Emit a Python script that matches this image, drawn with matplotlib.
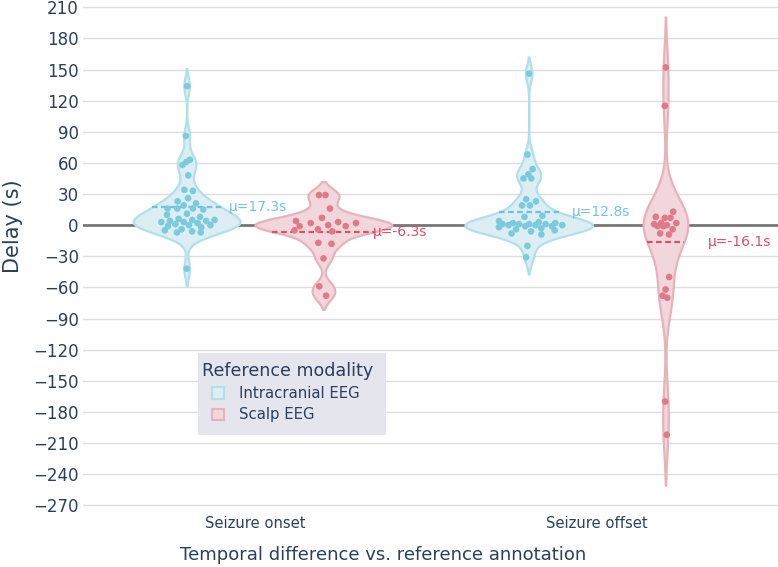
import numpy as np
import matplotlib
matplotlib.use("Agg")
import matplotlib.pyplot as plt
from matplotlib.patches import Patch, Rectangle
from matplotlib.legend_handler import HandlerPatch

# ---------------- data ----------------
categories = ["Seizure onset", "Seizure offset"]
modalities = ["Intracranial EEG", "Scalp EEG"]

intracranial_onset = [134, 86, 63, 61, 58, 48, 34, 33, 26, 23, 21, 19, 16, 16, 16, 15,
                      11, 10, 8, 6, 5, 5, 4, 4, 3, 3, 2, 1, 0, 0, -1, -2, -4, -5, -6,
                      -7, -7, -42]
scalp_onset = [29, 29, 16, 7, 4, 3, 2, 2, 0, -1, -1, -4, -5, -6, -17, -18, -32,
               -59, -68]
intracranial_offset = [146, 68, 54, 49, 45, 45, 25, 23, 19, 19, 9, 8, 4, 3, 2, 2, 1, 1,
                       1, 1, 0, 0, 0, -1, -1, -2, -3, -4, -5, -6, -8, -9, -20, -31]
scalp_offset = [152, 115, 13, 7, 8, 7, 2, 2, 0, -1, -4, -1, 1, -9, -8, -50, -62, -68,
                -70, -170, -202]

y_ticks = list(range(-270, 211, 30))

series = {
    ("Seizure onset", "Intracranial EEG"): intracranial_onset,
    ("Seizure onset", "Scalp EEG"): scalp_onset,
    ("Seizure offset", "Intracranial EEG"): intracranial_offset,
    ("Seizure offset", "Scalp EEG"): scalp_offset,
}

# ---------------- style ----------------
TXT = "#2a3f5f"
point_color = {"Intracranial EEG": "#7ccbdc", "Scalp EEG": "#e07a8b"}
fill_color = {"Intracranial EEG": "#dcedf3", "Scalp EEG": "#f1d6dc"}
edge_color = {"Intracranial EEG": "#b2e0ea", "Scalp EEG": "#e8b2bd"}
mean_color = {"Intracranial EEG": "#6cc3d6", "Scalp EEG": "#d95068"}
label_color = {"Intracranial EEG": "#72c6d9", "Scalp EEG": "#d95068"}
group_offset = {"Intracranial EEG": -0.2, "Scalp EEG": 0.2}
label_shift = {("Seizure onset", "Intracranial EEG"): 0.123,
               ("Seizure onset", "Scalp EEG"): 0.145,
               ("Seizure offset", "Intracranial EEG"): 0.125,
               ("Seizure offset", "Scalp EEG"): 0.125}
MAX_HALF = 0.2

plt.rcParams['font.family'] = ['DejaVu Sans']

W, H = 778, 567
AX_L, AX_B = 83, 511.5
fig = plt.figure(figsize=(W / 100, H / 100), dpi=100)
ax = fig.add_axes([AX_L / W, 1 - AX_B / H, 1 - AX_L / W, AX_B / H])


def px2ax(x, y):
    return (x - AX_L) / (W - AX_L), (AX_B - y) / AX_B


def silverman(v):
    v = np.asarray(v, float)
    n = len(v)
    sd = v.std(ddof=1)
    q1, q3 = np.percentile(v, [25, 75])
    a = min(sd, (q3 - q1) / 1.349)
    if a <= 0:
        a = sd
    return 1.059 * a * n ** -0.2


def kde(v, grid, bw):
    v = np.asarray(v, float)
    z = (grid[:, None] - v[None, :]) / bw
    return np.exp(-0.5 * z ** 2).sum(axis=1) / (len(v) * bw * np.sqrt(2 * np.pi))


dens = {}
for key, vals in series.items():
    bw = silverman(vals)
    grid = np.linspace(min(vals) - 2 * bw, max(vals) + 2 * bw, 400)
    dens[key] = (grid, kde(vals, grid, bw), bw)
gmax = max(d[1].max() for d in dens.values())

for ci, cat in enumerate(categories):
    for mod in modalities:
        key = (cat, mod)
        vals = np.asarray(series[key], float)
        grid, d, bw = dens[key]
        xc = ci + group_offset[mod]
        hw = d / gmax * MAX_HALF
        ax.fill_betweenx(grid, xc - hw, xc + hw, facecolor=fill_color[mod],
                         edgecolor=edge_color[mod], lw=1.6, zorder=3)
        m = vals.mean()
        hm = np.interp(m, grid, hw)
        ax.plot([xc - hm, xc + hm], [m, m], ls=(0, (2.5, 1.6)), color=mean_color[mod],
                lw=1.6, zorder=4)
        ax.text(xc + label_shift[key], m, f"\u03bc={m:.1f}s", ha="left", va="center",
                color=label_color[mod], fontsize=10, zorder=6)
        hv = np.interp(vals, grid, hw)
        u = ((np.arange(len(vals)) + 1) * 0.6180339887) % 1.0 * 2 - 1
        ax.scatter(xc + 0.55 * hv * u, vals, s=23, color=point_color[mod],
                   edgecolors="none", zorder=5)

ax.set_xlim(-0.503, 1.529)
ax.set_ylim(-276, 217)
ax.set_yticks(y_ticks)
ax.set_yticklabels([f"{t}".replace("-", "\u2212") for t in y_ticks])
ax.set_xticks(range(len(categories)))
ax.set_xticklabels(categories)
ax.tick_params(axis="both", length=0, labelcolor=TXT)
ax.tick_params(axis="y", pad=3, labelsize=12)
ax.tick_params(axis="x", pad=3.5, labelsize=10.6)
ax.grid(axis="y", color="#dedede", lw=1, zorder=0)
ax.set_axisbelow(True)
ax.axhline(0, color="#777777", lw=2, zorder=1)
for s in ax.spines.values():
    s.set_visible(False)

ax.set_ylabel("Delay (s)", color=TXT, fontsize=15)
ax.yaxis.set_label_coords(*px2ax(13, 226))
ax.yaxis.label.set_va("center")
ax.yaxis.label.set_ha("center")
ax.set_xlabel("Temporal difference vs. reference annotation", color=TXT, fontsize=13)
ax.xaxis.set_label_coords(*px2ax(383, 555))
ax.xaxis.label.set_va("center")
ax.xaxis.label.set_ha("center")

# legend
x0, y0 = px2ax(198, 435)
x1, y1 = px2ax(386, 353)
ax.add_patch(Rectangle((x0, y0), x1 - x0, y1 - y0, transform=ax.transAxes,
                       facecolor="#e5e5ee", edgecolor="none", zorder=7))
handles = [Patch(facecolor=fill_color[m], edgecolor=edge_color[m], lw=1.5, label=m)
           for m in modalities]
fs = 10.7
fs_px = fs * 100 / 72
leg = ax.legend(handles=handles, title="Reference modality", loc="upper left",
                bbox_to_anchor=px2ax(202, 362), borderaxespad=0, frameon=False,
                fontsize=fs, title_fontsize=12.6, alignment="left",
                handlelength=22 / fs_px, handleheight=12 / fs_px,
                handletextpad=15 / fs_px, borderpad=0, labelspacing=0.42,
                handler_map={Patch: HandlerPatch(xpad=10 / fs_px)})
leg.set_zorder(8)
leg.get_title().set_color(TXT)
for t in leg.get_texts():
    t.set_color(TXT)

fig.savefig("out.png", dpi=100)
